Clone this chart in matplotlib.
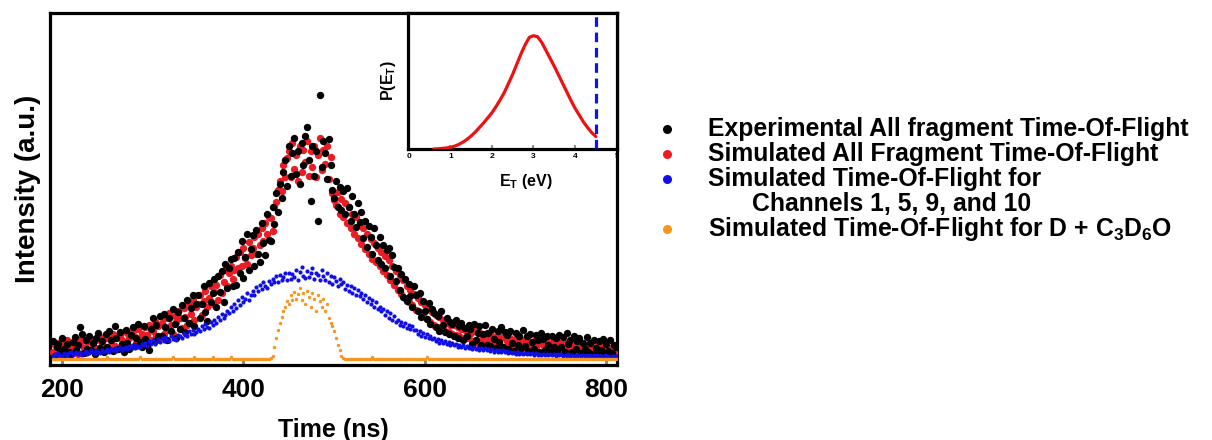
import numpy as np
import matplotlib
matplotlib.use("Agg")
import matplotlib.pyplot as plt
from matplotlib.transforms import Bbox, TransformedBbox

plt.rcParams['font.family'] = ['Liberation Sans', 'DejaVu Sans']
plt.rcParams['font.weight'] = 'bold'
plt.rcParams['mathtext.fontset'] = 'custom'
plt.rcParams['mathtext.rm'] = 'Liberation Sans:bold'
plt.rcParams['mathtext.it'] = 'Liberation Sans:bold'
plt.rcParams['mathtext.bf'] = 'Liberation Sans:bold'
plt.rcParams['mathtext.default'] = 'bf'

# ---------------- data ----------------
# time bins (ns)
time_ns = np.arange(190, 811, 2)

# intensities in arbitrary units
exp_all = [
    52, 10, 34, 45, 18, 60, 28, 8, 44, 22,
    14, 50, 64, 25, 42, 92, 72, 18, 56, 30,
    68, 26, 48, 15, 62, 76, 32, 52, 20, 72,
    36, 82, 55, 24, 95, 62, 30, 78, 44, 22,
    85, 48, 30, 70, 92, 38, 62, 102, 50, 34,
    96, 58, 40, 25, 88, 118, 52, 100, 66, 125,
    68, 130, 92, 55, 120, 80, 145, 102, 62, 135,
    88, 155, 120, 78, 170, 105, 148, 185, 95, 160,
    185, 118, 160, 210, 135, 110, 220, 165, 190, 232,
    150, 240, 195, 255, 165, 275, 205, 262, 290, 210,
    292, 215, 310, 248, 340, 235, 295, 362, 258, 318,
    360, 270, 372, 305, 282, 392, 335, 300, 420, 345,
    340, 440, 390, 480, 425, 505, 465, 540, 575, 500,
    615, 530, 595, 640, 535, 600, 505, 625, 560, 645,
    672, 575, 456, 615, 530, 600, 398, 762, 555, 630,
    595, 520, 635, 560, 490, 465, 515, 440, 498, 430,
    485, 418, 495, 440, 400, 472, 420, 382, 450, 395,
    425, 350, 400, 325, 385, 352, 305, 378, 330, 285,
    352, 275, 330, 262, 315, 322, 240, 300, 265, 225,
    262, 200, 245, 180, 232, 168, 218, 182, 150, 210,
    185, 138, 192, 122, 168, 140, 115, 162, 102, 145,
    132, 92, 125, 82, 140, 98, 78, 120, 72, 108,
    102, 68, 112, 62, 95, 105, 55, 90, 66, 100,
    88, 45, 102, 55, 75, 95, 42, 72, 98, 40,
    76, 38, 88, 58, 32, 82, 50, 94, 35, 78,
    70, 30, 80, 48, 24, 76, 42, 66, 32, 84,
    38, 66, 24, 72, 50, 30, 70, 55, 22, 76,
    58, 26, 66, 42, 20, 68, 36, 62, 24, 70,
    34, 64, 22, 76, 44, 56, 20, 66, 30, 52,
    60, 18, 48, 30, 64, 22, 46, 16, 56, 32,
    20, 52, 26, 58, 16, 44, 24, 54, 18, 40,
    36,
]

sim_all = [
    22, 42, 16, 48, 34, 12, 44, 26, 54, 18,
    38, 20, 52, 28, 16, 46, 60, 32, 24, 50,
    26, 58, 42, 20, 54, 32, 64, 46, 28, 60,
    68, 32, 52, 74, 38, 60, 30, 70, 54, 40,
    44, 76, 60, 34, 82, 64, 46, 88, 55, 72,
    52, 92, 70, 100, 56, 82, 110, 68, 96, 60,
    104, 72, 120, 84, 132, 98, 74, 126, 108, 140,
    118, 90, 148, 122, 98, 162, 130, 170, 112, 150,
    158, 185, 128, 168, 198, 150, 178, 212, 160, 195,
    215, 172, 242, 190, 222, 258, 210, 250, 270, 232,
    258, 295, 262, 310, 268, 322, 292, 275, 338, 300,
    322, 352, 305, 362, 330, 380, 342, 392, 362, 410,
    408, 370, 440, 455, 490, 515, 485, 560, 525, 580,
    600, 525, 625, 550, 590, 515, 615, 540, 605, 570,
    630, 530, 600, 555, 615, 525, 590, 640, 545, 605,
    565, 615, 520, 585, 480, 460, 445, 482, 420, 462,
    410, 452, 392, 440, 378, 420, 362, 410, 350, 392,
    332, 380, 318, 362, 305, 348, 288, 335, 280, 322,
    268, 310, 255, 298, 242, 285, 228, 270, 215, 256,
    200, 242, 188, 228, 176, 212, 165, 200, 155, 188,
    142, 176, 135, 165, 125, 155, 115, 146, 108, 136,
    100, 128, 94, 122, 88, 114, 82, 108, 78, 100,
    72, 98, 70, 92, 66, 88, 62, 85, 60, 80,
    74, 52, 82, 56, 46, 78, 54, 70, 44, 76,
    58, 42, 68, 48, 38, 70, 46, 62, 36, 64,
    52, 34, 62, 42, 30, 58, 40, 56, 28, 54,
    44, 28, 56, 36, 24, 52, 34, 46, 22, 54,
    40, 24, 50, 30, 20, 48, 28, 44, 20, 46,
    36, 22, 48, 26, 20, 44, 24, 38, 18, 44,
    32, 20, 42, 24, 16, 40, 22, 34, 16, 36,
    30, 18, 38, 22, 14, 34, 20, 32, 14, 34,
    20,
]

sim_channels = [
    8, 16, 11, 19, 13, 9, 17, 14, 10, 18,
    20, 13, 17, 22, 15, 21, 12, 19, 23, 16,
    18, 25, 21, 16, 26, 22, 19, 27, 20, 24,
    28, 21, 30, 25, 32, 24, 29, 34, 26, 31,
    36, 29, 38, 33, 40, 31, 42, 36, 34, 44,
    41, 48, 38, 52, 45, 55, 43, 50, 58, 49,
    60, 51, 64, 55, 52, 66, 58, 62, 55, 70,
    68, 62, 76, 70, 66, 80, 72, 85, 74, 78,
    88, 80, 96, 86, 102, 92, 90, 108, 98, 112,
    105, 122, 112, 130, 118, 128, 140, 132, 150, 138,
    160, 148, 170, 155, 180, 166, 174, 192, 172, 186,
    198, 184, 208, 196, 215, 202, 222, 210, 205, 226,
    218, 232, 224, 240, 222, 244, 230, 236, 248, 228,
    250, 232, 246, 238, 258, 230, 252, 266, 240, 234,
    256, 236, 248, 262, 232, 250, 244, 228, 258, 240,
    230, 248, 222, 240, 216, 236, 226, 212, 232, 218,
    222, 204, 214, 198, 210, 192, 205, 186, 200, 182,
    190, 174, 184, 165, 178, 158, 170, 150, 164, 146,
    150, 138, 145, 128, 138, 120, 132, 112, 124, 108,
    114, 100, 108, 95, 104, 90, 100, 86, 95, 84,
    85, 74, 82, 68, 76, 64, 72, 60, 68, 58,
    62, 52, 58, 48, 56, 46, 52, 43, 50, 42,
    46, 40, 44, 36, 42, 35, 40, 33, 39, 32,
    36, 30, 35, 28, 33, 27, 32, 26, 31, 25,
    29, 24, 28, 22, 27, 21, 26, 21, 25, 20,
    23, 18, 22, 17, 21, 16, 20, 16, 19, 15,
    19, 14, 18, 14, 17, 13, 18, 13, 16, 12,
    16, 12, 15, 11, 16, 11, 14, 10, 15, 11,
    14, 10, 13, 9, 14, 10, 12, 9, 13, 10,
    12, 9, 12, 8, 11, 9, 12, 8, 11, 8,
    11, 8, 10, 7, 11, 8, 10, 7, 10, 8,
    9,
]

sim_d_c3d6o = [
    0, 0, 0, 0, 0, 0, 0, 0, 0, 0,
    0, 0, 0, 0, 0, 0, 0, 0, 0, 0,
    0, 0, 0, 0, 0, 0, 0, 0, 0, 0,
    6, 0, 0, 0, 0, 0, 0, 0, 0, 0,
    0, 0, 0, 0, 0, 0, 0, 0, 6, 0,
    0, 0, 0, 0, 0, 0, 0, 0, 0, 0,
    0, 0, 0, 0, 0, 0, 6, 0, 0, 0,
    0, 0, 0, 0, 0, 0, 0, 0, 6, 0,
    0, 0, 0, 0, 0, 0, 0, 0, 6, 0,
    0, 0, 0, 0, 0, 0, 0, 0, 6, 0,
    0, 0, 0, 0, 0, 0, 0, 0, 0, 0,
    0, 0, 0, 0, 0, 0, 0, 0, 0, 0,
    2, 10, 35, 60, 85, 105, 122, 140, 150, 168,
    160, 185, 170, 195, 175, 188, 205, 172, 190, 160,
    198, 180, 150, 192, 175, 140, 185, 168, 150, 175,
    140, 158, 120, 105, 95, 80, 60, 42, 25, 10,
    3, 0, 0, 0, 0, 0, 0, 0, 0, 0,
    0, 0, 0, 0, 0, 0, 6, 0, 0, 0,
    0, 0, 0, 0, 0, 0, 0, 0, 0, 0,
    0, 0, 0, 0, 0, 0, 0, 0, 0, 0,
    0, 0, 0, 0, 0, 0, 6, 0, 0, 0,
    0, 0, 0, 0, 0, 0, 0, 0, 0, 0,
    0, 0, 0, 0, 0, 0, 0, 0, 0, 0,
    0, 0, 0, 0, 0, 0, 0, 0, 0, 0,
    0, 0, 0, 0, 0, 0, 0, 0, 0, 0,
    0, 0, 0, 0, 0, 0, 0, 0, 0, 0,
    0, 0, 0, 0, 0, 0, 0, 0, 0, 0,
    0, 0, 0, 0, 0, 0, 0, 0, 0, 0,
    0, 0, 0, 0, 0, 0, 0, 0, 0, 0,
    0, 0, 0, 0, 0, 0, 0, 0, 0, 0,
    0, 0, 0, 0, 0, 0, 0, 0, 0, 0,
    0,
]

# inset: translational energy distribution P(E_T)
et_ev = [0.6, 0.7, 0.8, 0.9, 1.0, 1.1, 1.2, 1.3, 1.4, 1.5, 1.6, 1.7, 1.8, 1.9,
         2.0, 2.1, 2.2, 2.3, 2.4, 2.5, 2.6, 2.7, 2.8, 2.9, 3.0, 3.1, 3.2, 3.3,
         3.4, 3.5, 3.6, 3.7, 3.8, 3.9, 4.0, 4.1, 4.2, 4.3, 4.4, 4.5]
p_et = [0.0, 0.002, 0.005, 0.009, 0.015, 0.025, 0.04, 0.06, 0.085, 0.115,
        0.15, 0.19, 0.23, 0.275, 0.32, 0.375, 0.435, 0.50, 0.58, 0.66,
        0.75, 0.84, 0.92, 0.985, 1.0, 0.99, 0.94, 0.87, 0.80, 0.73,
        0.655, 0.58, 0.505, 0.43, 0.36, 0.30, 0.24, 0.19, 0.145, 0.11]
et_limit = 4.5

main_ticks = [200, 400, 600, 800]
inset_ticks = [0, 1, 2, 3, 4, 5]

legend_labels = [
    "Experimental All fragment Time-Of-Flight",
    "Simulated All Fragment Time-Of-Flight",
    "Simulated Time-Of-Flight for",
    "Channels 1, 5, 9, and 10",
    r"Simulated Time-Of-Flight for D + C$_{3}$D$_{6}$O",
]

# ---------------- figure ----------------
W, H = 1212, 440
fig = plt.figure(figsize=(W / 100, H / 100), dpi=100)

def px_box(x0, y0, x1, y1):
    return [x0 / W, 1 - y1 / H, (x1 - x0) / W, (y1 - y0) / H]

ax = fig.add_axes(px_box(50, 13, 617, 365))
c_black = '#000000'
c_red = '#ec1c24'
c_blue = '#1010e6'
c_orange = '#f7941d'

ax.scatter(time_ns, sim_all, s=28, color=c_red, linewidths=0, zorder=3)
ax.scatter(time_ns, exp_all, s=28, color=c_black, linewidths=0, zorder=3.5)
ax.scatter(time_ns, sim_channels, s=9, color=c_blue, linewidths=0, zorder=4)
ax.scatter(time_ns, sim_d_c3d6o, s=6, color=c_orange, linewidths=0, zorder=5)

ax.set_xlim(186.8, 811.6)
ax.set_ylim(-17, 1000)
ax.set_xticks(main_ticks)
ax.set_yticks([])
ax.tick_params(axis='x', direction='in', length=5, width=2, color='#808080',
               labelsize=19, pad=9)
for lab in ax.get_xticklabels():
    lab.set_fontweight('bold')
for sp in ax.spines.values():
    sp.set_linewidth(2.3)
ax.set_xlabel("Time (ns)", fontsize=18, fontweight='bold')
ax.xaxis.set_label_coords(0.5, -0.15)
ax.set_ylabel("Intensity (a.u.)", fontsize=20, fontweight='bold')
ax.yaxis.set_label_coords(-0.015, 0.5)

# inset
axin = fig.add_axes(px_box(408, 13, 617, 149))
axin.plot(et_ev, p_et, color='#ee1111', lw=2.3, solid_capstyle='round', zorder=3)
axin.axvline(et_limit, color='#1111ee', lw=2.3, ls=(0, (3, 1.8)), zorder=4)
axin.set_xlim(-0.02, 5.01)
axin.set_ylim(0, 1.2)
axin.set_xticks(inset_ticks)
axin.set_yticks([])
axin.tick_params(axis='x', direction='in', length=3, width=1.5, color='#909090',
                 labelsize=6, pad=3)
for sp in axin.spines.values():
    sp.set_linewidth(2.3)
axin.set_xlabel(r"E$_{T}$ (eV)", fontsize=11.5, fontweight='bold')
axin.xaxis.set_label_coords(0.565, -0.17)
axin.set_ylabel(r"P(E$_{T}$)", fontsize=11.5, fontweight='bold')
axin.yaxis.set_label_coords(-0.05, 0.5)
clipbox = TransformedBbox(Bbox([[-0.5, -1.0], [1.0, 2.0]]), axin.transAxes)
for lab in axin.get_xticklabels():
    lab.set_fontweight('bold')
    lab.set_clip_box(clipbox)
    lab.set_clip_on(True)

# legend (manual layout)
lg = fig.add_axes([0, 0, 1, 1], zorder=-1)
lg.set_xlim(0, W)
lg.set_ylim(H, 0)
lg.axis('off')
rows_y = [129, 154, 179, 204, 229]
text_x = [708, 708, 708, 752, 708]
for lbl, yy, xx in zip(legend_labels, rows_y, text_x):
    lg.text(xx, yy, lbl, fontsize=17.8, fontweight='bold', va='center', ha='left')
marker_rows = [(129, c_black), (154, c_red), (179, c_blue), (229, c_orange)]
for yy, cc in marker_rows:
    lg.plot([667], [yy], 'o', ms=6.5, color=cc, mec='none')

fig.savefig("out.png", dpi=100)
